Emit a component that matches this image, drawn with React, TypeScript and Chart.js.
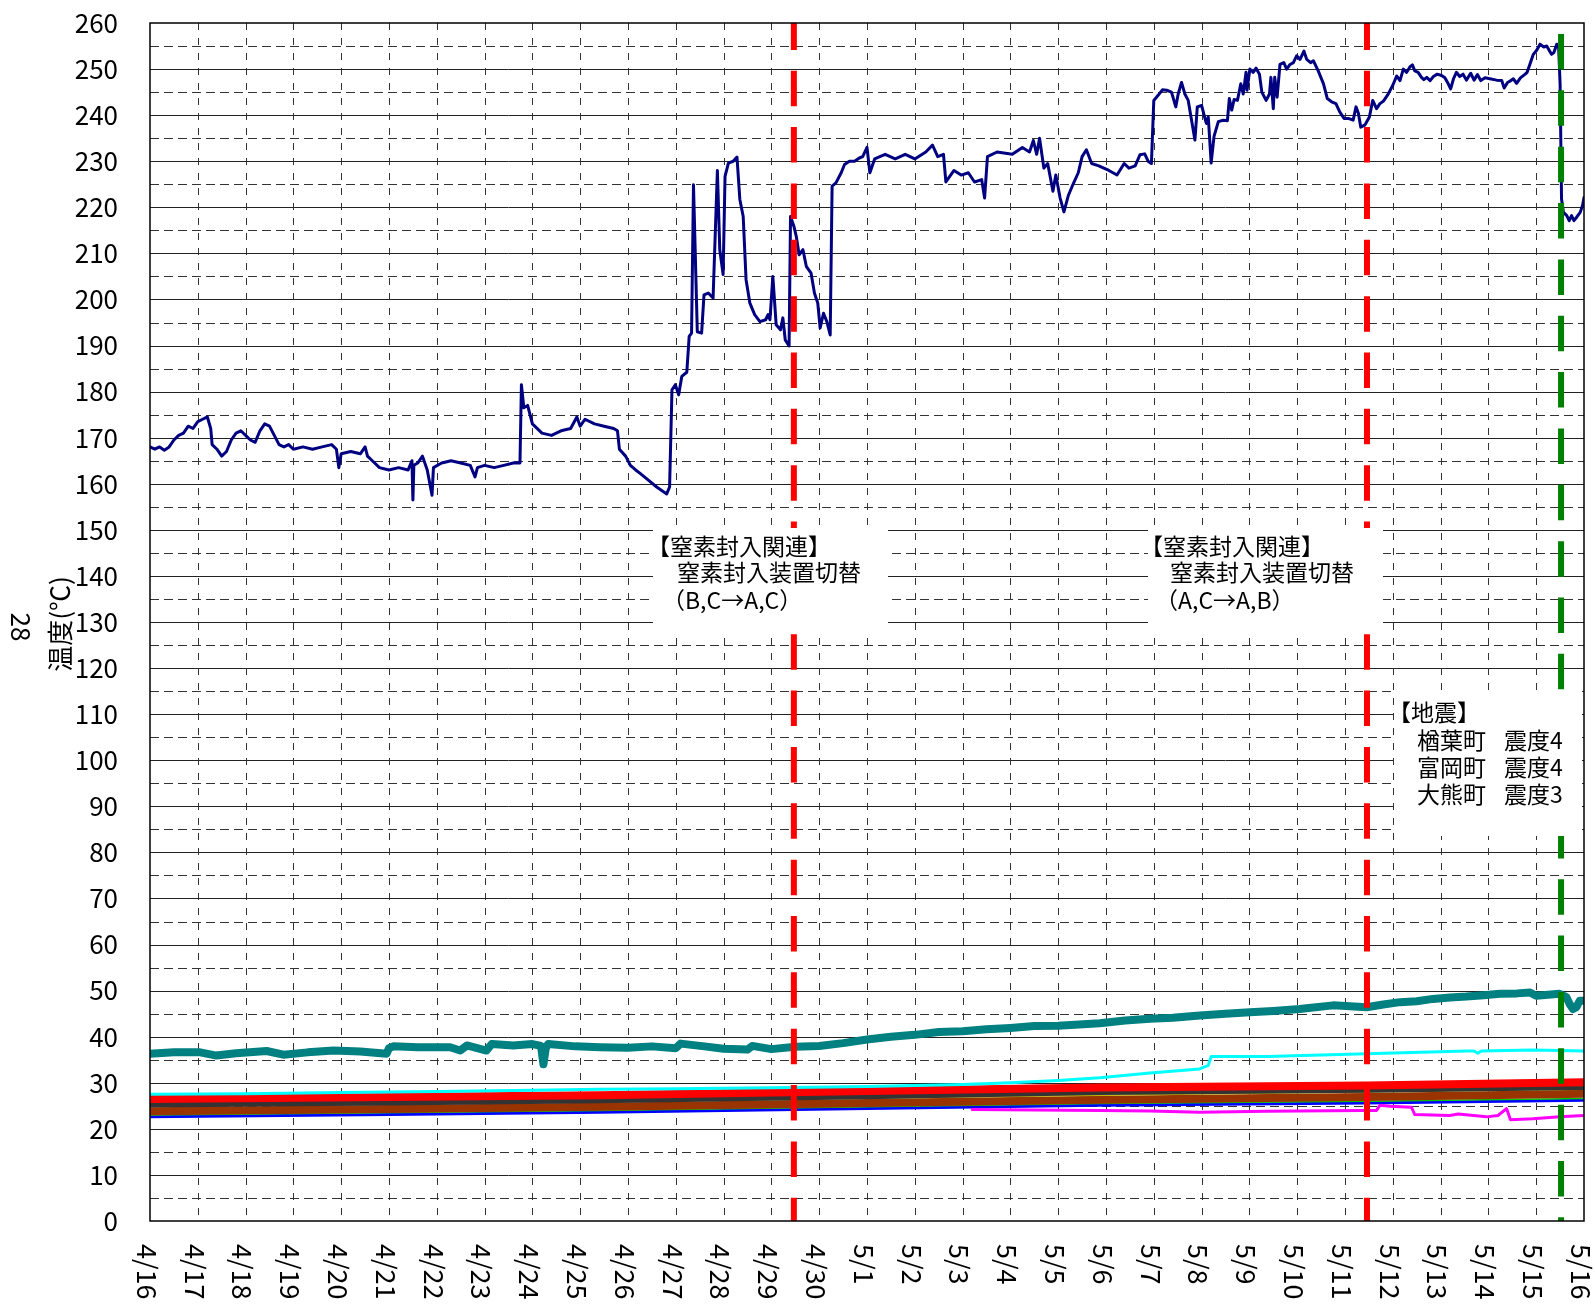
import React, { useEffect, useRef } from 'react';
import { Chart, registerables } from 'chart.js';

Chart.register(...registerables);

const FONT = '"Noto Sans CJK JP", "Noto Sans", sans-serif';

// x tick labels (one per day, 4/16 .. 5/16)
const dateLabels = [
  '4/16', '4/17', '4/18', '4/19', '4/20', '4/21', '4/22', '4/23', '4/24', '4/25',
  '4/26', '4/27', '4/28', '4/29', '4/30', '5/1', '5/2', '5/3', '5/4', '5/5',
  '5/6', '5/7', '5/8', '5/9', '5/10', '5/11', '5/12', '5/13', '5/14', '5/15', '5/16',
];

// main (navy) series: days since 4/16 0:00, temperature
const navyDays = [
  0.00, 0.10, 0.20, 0.30, 0.40, 0.50, 0.60, 0.70, 0.80, 0.90, 1.00, 1.10, 1.20, 1.27, 1.30, 1.40, 1.50, 1.60, 1.70, 1.80,
  1.90, 2.00, 2.10, 2.20, 2.30, 2.40, 2.50, 2.60, 2.70, 2.80, 2.90, 3.00, 3.20, 3.40, 3.60, 3.80, 3.90, 3.95, 4.00, 4.20,
  4.40, 4.50, 4.55, 4.70, 4.80, 5.00, 5.20, 5.40, 5.48, 5.50, 5.52, 5.60, 5.70, 5.80, 5.90, 5.93, 6.10, 6.30, 6.50, 6.70,
  6.80, 6.85, 7.00, 7.20, 7.40, 7.60, 7.74, 7.77, 7.82, 7.90, 8.00, 8.20, 8.40, 8.60, 8.80, 8.93, 9.00, 9.10, 9.30, 9.50,
  9.70, 9.78, 9.82, 9.95, 10.05, 10.16, 10.26, 10.47, 10.60, 10.81, 10.87, 10.92, 10.99, 11.06, 11.125, 11.23, 11.28, 11.33, 11.37, 11.45,
  11.54, 11.59, 11.68, 11.78, 11.87, 11.92, 11.99, 12.03, 12.10, 12.20, 12.28, 12.34, 12.41, 12.47, 12.55, 12.65, 12.76, 12.88, 12.93, 12.97,
  13.03, 13.10, 13.19, 13.24, 13.29, 13.37, 13.40, 13.47, 13.52, 13.58, 13.66, 13.73, 13.83, 13.90, 13.97, 14.02, 14.09, 14.16, 14.23, 14.27,
  14.35, 14.46, 14.53, 14.63, 14.74, 14.84, 14.91, 15.00, 15.06, 15.16, 15.38, 15.59, 15.80, 16.00, 16.23, 16.37, 16.48, 16.60, 16.65, 16.82,
  16.97, 17.12, 17.25, 17.40, 17.46, 17.52, 17.72, 18.04, 18.25, 18.40, 18.48, 18.55, 18.61, 18.70, 18.78, 18.89, 18.95, 19.04, 19.12, 19.21,
  19.31, 19.42, 19.50, 19.59, 19.70, 19.85, 20.06, 20.23, 20.38, 20.48, 20.61, 20.71, 20.81, 20.88, 20.95, 21.00, 21.09, 21.18, 21.27, 21.37,
  21.46, 21.51, 21.58, 21.65, 21.72, 21.79, 21.86, 21.91, 22.00, 22.07, 22.10, 22.14, 22.20, 22.26, 22.35, 22.45, 22.54, 22.58, 22.63, 22.68,
  22.75, 22.82, 22.87, 22.93, 22.95, 23.01, 23.08, 23.14, 23.21, 23.26, 23.35, 23.42, 23.45, 23.50, 23.53, 23.58, 23.64, 23.72, 23.78, 23.85,
  23.92, 23.99, 24.06, 24.14, 24.20, 24.28, 24.34, 24.44, 24.55, 24.63, 24.72, 24.81, 24.89, 24.98, 25.07, 25.17, 25.23, 25.28, 25.33, 25.42,
  25.51, 25.58, 25.66, 25.73, 25.80, 25.90, 26.00, 26.08, 26.15, 26.22, 26.29, 26.36, 26.41, 26.46, 26.53, 26.60, 26.65, 26.71, 26.78, 26.85,
  26.93, 27.02, 27.09, 27.16, 27.21, 27.27, 27.33, 27.40, 27.47, 27.54, 27.63, 27.70, 27.77, 27.84, 27.93, 28.03, 28.17, 28.28, 28.33, 28.40,
  28.47, 28.52, 28.59, 28.67, 28.77, 28.81, 28.87, 28.94, 29.01, 29.08, 29.16, 29.22, 29.28, 29.32, 29.37, 29.43, 29.47, 29.50, 29.53, 29.57,
  29.64, 29.69, 29.74, 29.79, 29.85, 29.92, 29.97, 30.00,
];
const navyTemps = [
  168, 167.5, 168, 167.3, 168, 169.5, 170.5, 171, 172.5, 172, 173.5, 174, 174.5, 172, 168.5, 167.5, 166, 167, 169.5, 171,
  171.5, 170.5, 169.5, 169, 171.5, 173, 172.5, 170.5, 168.5, 168, 168.5, 167.5, 168, 167.5, 168, 168.5, 167.5, 163.5, 166.5, 167,
  166.5, 168, 166, 164.5, 163.5, 163, 163.5, 163, 165, 156.5, 164, 164.5, 166, 163, 157.5, 163.5, 164.5, 165, 164.5, 164,
  161.5, 163.5, 164, 163.5, 164, 164.5, 164.5, 181.5, 176.5, 177, 173, 171, 170.5, 171.5, 172, 174.5, 172.5, 174, 173, 172.5,
  172, 171.5, 167.5, 166, 164, 163, 162.2, 160.4, 159.3, 157.8, 159.3, 180.4, 181.5, 179.3, 183.3, 184.2, 192, 192.7, 224.9, 193,
  192.7, 201, 201.4, 200.3, 228, 210.8, 205.4, 226.7, 229.6, 230, 230.9, 221.7, 218, 204.3, 199.2, 196.7, 195.2, 195.6, 196.7, 195.6,
  205, 194.5, 193.4, 196, 191.2, 189.9, 218, 215.9, 213.7, 209.7, 210.8, 207.2, 205.7, 201.4, 199.2, 193.8, 197, 195.2, 192.3, 224.6,
  225.3, 227.5, 229.3, 230, 230, 230.7, 231, 233, 227.5, 230.5, 231.5, 230.5, 231.5, 230.5, 232, 233.5, 231, 231.5, 225.5, 228,
  227, 227.5, 225.5, 226, 222, 231, 232, 231.5, 233, 232, 234.5, 231.5, 235, 228.5, 229.5, 223.5, 227, 222, 219, 222.5,
  225, 227.5, 231, 232.5, 229.5, 229, 228, 227, 229.5, 228.5, 229, 231.4, 231.6, 230, 229.5, 243.2, 244.3, 245.5, 245.4, 245,
  241.8, 244.6, 247.1, 244.6, 243.2, 238.9, 234.6, 241.8, 242.1, 239.3, 238.2, 239.6, 229.6, 235.4, 238.6, 238.9, 238.8, 243.6, 241.1, 243.4,
  243.2, 246.8, 244.6, 249.3, 245.4, 250, 249.3, 250.2, 248.9, 245, 243.2, 244.6, 248.2, 241.4, 248.2, 243.9, 251, 251.4, 250, 251,
  251.4, 252.9, 252.1, 253.9, 252.1, 251.4, 251.8, 249.6, 246.8, 243.6, 242.9, 242.5, 240.7, 239.3, 239.3, 238.9, 241.8, 240.4, 237.4, 237.9,
  239.6, 243.2, 241.4, 242.5, 243, 244.5, 246.5, 248.5, 247.5, 250, 249.3, 250.5, 250.9, 249.6, 249.3, 248.2, 247.7, 248.2, 247.5, 248.4,
  248.9, 248.6, 248.1, 246.8, 245.7, 247.9, 249.3, 248.4, 248.9, 247.6, 249.1, 247.6, 248.8, 247.5, 248.1, 247.9, 247.6, 247.5, 245.9, 247.1,
  247.5, 247.9, 246.9, 248.1, 248.9, 249.3, 251.1, 253.2, 254.1, 255.4, 254.8, 255, 253.9, 253.2, 253.6, 255.4, 254.6, 246.8, 221.8, 218.9,
  218.2, 217.1, 218.2, 217.1, 217.9, 218.9, 220.4, 222.1,
];

// teal (thick)
const tealDays = [0, 0.5, 1.05, 1.39, 1.8, 2.44, 2.79, 3.3, 3.84, 4.4, 4.95, 5.0, 5.09, 5.6, 6.28, 6.49, 6.63, 7.04, 7.15, 7.6, 8.0, 8.18, 8.23, 8.28, 8.33, 8.9, 9.41, 10.0, 10.5, 11.0, 11.1, 11.6, 12.0, 12.5, 12.6, 13.0, 13.5, 14.0, 14.5, 15.0, 15.5, 16.0, 16.5, 17.0, 17.5, 18.0, 18.5, 19.0, 19.87, 20.4, 20.92, 21.4, 21.96, 22.5, 23.01, 23.5, 24.05, 24.75, 25.45, 25.8, 26.15, 26.5, 26.84, 27.2, 27.54, 27.9, 28.24, 28.6, 28.87, 29.0, 29.49, 29.63, 29.7, 29.77, 29.84, 29.91, 30];
const tealTemps = [36.3, 36.6, 36.6, 35.9, 36.4, 36.9, 36.1, 36.6, 37, 36.8, 36.3, 37.5, 37.9, 37.7, 37.7, 37, 38.1, 37, 38.4, 38.1, 38.4, 38.0, 34.0, 37.5, 38.4, 37.9, 37.7, 37.6, 37.9, 37.5, 38.5, 37.9, 37.4, 37.2, 38.0, 37.3, 37.8, 38.0, 38.6, 39.4, 40.0, 40.4, 41.0, 41.2, 41.6, 41.9, 42.3, 42.4, 42.9, 43.5, 43.9, 44.1, 44.6, 45.0, 45.3, 45.6, 46, 46.8, 46.4, 47.0, 47.5, 47.7, 48.2, 48.5, 48.7, 49.0, 49.3, 49.4, 49.6, 48.9, 49.3, 48.6, 47.1, 46, 46.4, 47.8, 47.8];

// cyan
const cyanDays = [0, 2, 4, 6, 8, 9.41, 11, 13, 15, 17, 18, 19, 19.87, 20.92, 21.96, 22.14, 22.2, 23.36, 25.45, 27.54, 27.7, 27.78, 27.85, 28.93, 30];
const cyanTemps = [27.5, 27.6, 27.9, 28.1, 28.4, 28.6, 28.7, 28.9, 29.2, 29.6, 30.0, 30.5, 31.1, 32.1, 33, 33.8, 35.7, 35.7, 36.3, 36.9, 36.9, 36.4, 36.9, 37.1, 36.9];

// red (thick)
const redDays = [0, 5, 9.41, 15, 19.87, 25.45, 30];
const redTemps = [26.5, 26.9, 27.3, 28.2, 29.0, 29.4, 30.1];

// dark gray (thick)
const grayDays = [0, 5, 9.41, 15, 19.87, 25.45, 30];
const grayTemps = [25.3, 25.7, 26.2, 27.1, 28.0, 28.5, 29.1];

// olive / yellow (thin)
const oliveDays = [0, 9.41, 19.87, 30];
const oliveTemps = [24.9, 25.9, 27.3, 28.6];

// brown (thick)
const brownDays = [0, 5, 9.41, 15, 19.87, 25.45, 30];
const brownTemps = [23.8, 24.3, 24.8, 25.6, 26.3, 26.9, 27.6];

// green (thin)
const greenDays = [0, 9.41, 19.87, 25.45, 30];
const greenTemps = [23.0, 24.0, 25.5, 26.0, 26.6];

// blue
const blueDays = [0, 5, 9.41, 15, 19.87, 25.45, 30];
const blueTemps = [22.6, 23.1, 23.6, 24.4, 25.1, 25.6, 26.2];

// magenta
const magentaDays = [17.2, 19.87, 20.92, 21.96, 23.36, 25.38, 25.66, 25.73, 25.94, 26.39, 26.46, 27.19, 27.37, 27.96, 28.2, 28.38, 28.46, 28.93, 29.49, 30];
const magentaTemps = [24.2, 24.0, 23.9, 23.6, 23.8, 24.0, 24.0, 25.1, 24.9, 24.7, 23.1, 22.9, 23.2, 22.6, 22.9, 24.4, 22.0, 22.2, 22.6, 22.9];

// event markers
const nitrogenSwitchDays = [13.47, 25.46];
const quakeDay = 29.52;

const nitrogenNotes = [
  ['【窒素封入関連】', '窒素封入装置切替', '（B,C→A,C）'],
  ['【窒素封入関連】', '窒素封入装置切替', '（A,C→A,B）'],
];
const quakeTitle = '【地震】';
const quakeTowns = ['楢葉町', '富岡町', '大熊町'];
const quakeIntensity = ['震度4', '震度4', '震度3'];
const yTitle = '温度(℃)';
const sideNote = '28';

const pts = (xs: number[], ys: number[]) => xs.map((d, i) => ({ x: d, y: ys[i] }));

const line = (label: string, xs: number[], ys: number[], color: string, width: number) => ({
  label,
  data: pts(xs, ys),
  borderColor: color,
  backgroundColor: color,
  borderWidth: width,
  pointRadius: 0,
  tension: 0,
  fill: false,
  borderJoinStyle: 'round' as const,
  borderCapStyle: 'round' as const,
});

const decorPlugin = {
  id: 'decor',
  beforeDatasetsDraw(chart: any) {
    const { ctx, chartArea: a, scales } = chart;
    const x = scales.x;
    const y = scales.y;
    ctx.save();
    ctx.lineWidth = 1;
    for (let v = 5; v < 260; v += 5) {
      const py = Math.round(y.getPixelForValue(v)) + 0.5;
      const major = v % 10 === 0;
      ctx.strokeStyle = major ? '#222' : '#333';
      ctx.setLineDash(major ? [] : [9, 5]);
      ctx.beginPath();
      ctx.moveTo(a.left, py);
      ctx.lineTo(a.right, py);
      ctx.stroke();
    }
    ctx.setLineDash([7, 8]);
    ctx.strokeStyle = '#333';
    for (let d = 1; d < 30; d++) {
      const px = Math.round(x.getPixelForValue(d)) + 0.5;
      ctx.beginPath();
      ctx.moveTo(px, a.top);
      ctx.lineTo(px, a.bottom);
      ctx.stroke();
    }
    ctx.restore();
  },
  afterDatasetsDraw(chart: any) {
    const { ctx, chartArea: a, scales } = chart;
    const x = scales.x;
    ctx.save();
    ctx.lineCap = 'butt';
    ctx.lineWidth = 6;
    ctx.setLineDash([35.5, 20.85]);
    // red dashed event lines
    ctx.strokeStyle = '#FF0000';
    ctx.lineDashOffset = 8.6;
    nitrogenSwitchDays.forEach((d) => {
      const px = x.getPixelForValue(d);
      ctx.beginPath();
      ctx.moveTo(px, a.top);
      ctx.lineTo(px, a.bottom);
      ctx.stroke();
    });
    // green dashed earthquake line
    ctx.strokeStyle = '#008000';
    ctx.lineDashOffset = 0;
    {
      const px = x.getPixelForValue(quakeDay);
      ctx.beginPath();
      ctx.moveTo(px, a.top + 11);
      ctx.lineTo(px, a.bottom);
      ctx.stroke();
    }
    ctx.setLineDash([]);

    // annotation boxes
    ctx.fillStyle = '#FFFFFF';
    const boxes = [
      [653, 528, 235, 102],
      [1148, 528, 235, 102],
      [1394, 690, 188, 146],
    ];
    boxes.forEach(([bx, by, bw, bh]) => ctx.fillRect(bx, by, bw, bh));
    ctx.fillStyle = '#000';
    ctx.font = `23px ${FONT}`;
    ctx.textAlign = 'left';
    ctx.textBaseline = 'alphabetic';
    const noteX = [647, 1140];
    nitrogenNotes.forEach((lines, i) => {
      const bx = noteX[i];
      ctx.fillText(lines[0], bx, 555);
      ctx.fillText(lines[1], bx + 30, 581);
      ctx.fillText(lines[2], bx + 15, 609);
    });
    ctx.fillText(quakeTitle, 1388, 721);
    quakeTowns.forEach((t, i) => {
      const by = 749 + i * 27;
      ctx.fillText(t, 1417, by);
      ctx.fillText(quakeIntensity[i], 1504, by);
    });

    // plot frame
    ctx.strokeStyle = '#000';
    ctx.lineWidth = 1.5;
    ctx.strokeRect(a.left, a.top, a.right - a.left, a.bottom - a.top);
    ctx.restore();
  },
  afterDraw(chart: any) {
    const { ctx, chartArea: a, scales } = chart;
    const x = scales.x;
    ctx.save();
    ctx.fillStyle = '#000';
    ctx.font = `27px ${FONT}`;
    ctx.textAlign = 'left';
    ctx.textBaseline = 'middle';
    dateLabels.forEach((lab, i) => {
      const px = x.getPixelForValue(i);
      ctx.save();
      ctx.translate(px - 3, a.bottom + 23);
      ctx.rotate(Math.PI / 2);
      ctx.fillText(lab, 0, 0);
      ctx.restore();
    });
    ctx.font = `26px ${FONT}`;
    // y axis title
    ctx.save();
    ctx.translate(60, 624);
    ctx.rotate(-Math.PI / 2);
    ctx.textAlign = 'center';
    ctx.fillText(yTitle, 0, 0);
    ctx.restore();
    ctx.save();
    ctx.translate(21, 627);
    ctx.rotate(Math.PI / 2);
    ctx.textAlign = 'center';
    ctx.fillText(sideNote, 0, 0);
    ctx.restore();
    ctx.restore();
  },
};

export default function App() {
  const ref = useRef<HTMLCanvasElement | null>(null);
  useEffect(() => {
    if (!ref.current) return;
    const chart = new Chart(ref.current, {
      type: 'line',
      data: {
        datasets: [
          line('navy', navyDays, navyTemps, '#000080', 3),
          line('teal', tealDays, tealTemps, '#008080', 8),
          line('magenta', magentaDays, magentaTemps, '#FF00FF', 3),
          line('cyan', cyanDays, cyanTemps, '#00FFFF', 3),
          line('red', redDays, redTemps, '#FF0000', 8),
          line('gray', grayDays, grayTemps, '#333333', 6),
          line('olive', oliveDays, oliveTemps, '#C8B400', 1.5),
          line('brown', brownDays, brownTemps, '#993300', 8),
          line('green', greenDays, greenTemps, '#00CC00', 1.5),
          line('blue', blueDays, blueTemps, '#0000FF', 3),
        ] as any,
      },
      options: {
        responsive: false,
        animation: false,
        events: [],
        layout: { padding: { top: 23, right: 11, left: 0, bottom: 0 } },
        plugins: { legend: { display: false }, tooltip: { enabled: false } },
        scales: {
          x: {
            type: 'linear',
            min: 0,
            max: 30,
            grid: { display: false, drawTicks: false },
            border: { display: false },
            ticks: { display: false, stepSize: 1 },
            afterFit: (s: any) => { s.height = 85; s.paddingLeft = 0; s.paddingRight = 0; },
          },
          y: {
            min: 0,
            max: 260,
            grid: { display: false, drawTicks: false },
            border: { display: false },
            ticks: {
              stepSize: 10,
              padding: 32,
              color: '#000',
              autoSkip: false,
              font: { family: FONT, size: 26 },
            },
            afterFit: (s: any) => { s.width = 150; s.paddingTop = 0; s.paddingBottom = 0; },
          },
        },
      } as any,
      plugins: [decorPlugin],
    });
    return () => chart.destroy();
  }, []);
  return (
    <div style={{ position: 'absolute', left: 0, top: 0, width: 1595, height: 1306, background: '#fff' }}>
      <canvas ref={ref} width={1595} height={1306} style={{ display: 'block' }} />
    </div>
  );
}
